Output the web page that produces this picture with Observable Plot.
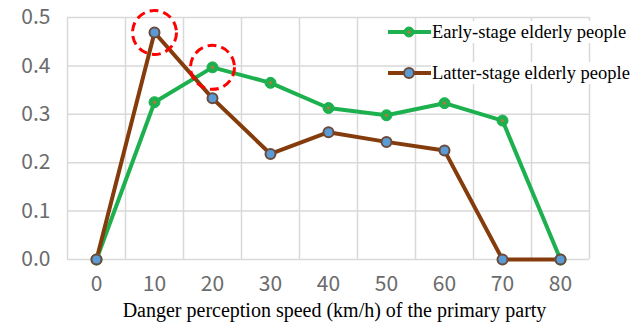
<!DOCTYPE html>
<html><head><meta charset="utf-8">
<script src="https://cdn.jsdelivr.net/npm/d3@7"></script>
<script src="https://cdn.jsdelivr.net/npm/@observablehq/plot@0.6"></script>
<style>
body{margin:0;background:#fff;}
#wrap{position:relative;width:639px;height:333px;}
.leg{position:absolute;font-family:"Liberation Serif",serif;font-size:18.5px;color:#000;background:#fff;white-space:nowrap;line-height:22px;padding:0 3px 0 1px;}
</style>
</head><body>
<div id="wrap"></div>
<script>
const speeds = [0,10,20,30,40,50,60,70,80];
const early = [0,0.325,0.397,0.365,0.313,0.298,0.323,0.287,0];
const latter = [0,0.469,0.333,0.218,0.263,0.243,0.225,0,0];
const yTicks = [0,0.1,0.2,0.3,0.4,0.5];
const seriesNames = ["Early-stage elderly people","Latter-stage elderly people"];
const highlights = [{s:10, v:latter[1]},{s:20, v:early[2]}];

const green = "#1db04f", brown = "#843c0c", blue = "#5b9bd5";
const dataE = speeds.map((s,i)=>({s, v:early[i]}));
const dataL = speeds.map((s,i)=>({s, v:latter[i]}));
const gridX = speeds.map(s=>s-5).concat([speeds[speeds.length-1]+5]);

const chart = Plot.plot({
  width:639, height:333,
  marginLeft:67, marginRight:50, marginTop:17, marginBottom:74,
  x:{type:"linear", domain:[-5,85]},
  y:{domain:[0,0.5]},
  style:{background:"#fff"},
  marks:[
    Plot.ruleY(yTicks,{stroke:"#d9d9d9",strokeWidth:1.5}),
    Plot.ruleX(gridX,{stroke:"#d9d9d9",strokeWidth:1.5}),
    Plot.axisY({ticks:yTicks, tickSize:0, tickPadding:17, tickFormat:d3.format(".1f"), label:null,
      fontSize:21, fill:"#6b6b6b", fontFamily:"Noto Sans CJK JP", style:"letter-spacing:2px"}),
    Plot.axisX({ticks:speeds, tickSize:0, tickPadding:17, tickFormat:d=>String(d), label:null,
      fontSize:21, fill:"#6b6b6b", fontFamily:"Noto Sans CJK JP"}),
    Plot.line(dataE,{x:"s",y:"v",stroke:green,strokeWidth:4}),
    Plot.line(dataL,{x:"s",y:"v",stroke:brown,strokeWidth:4}),
    Plot.dot(dataE,{x:"s",y:"v",r:5.5,fill:green,stroke:green,strokeWidth:1}),
    Plot.dot(dataE,{x:"s",y:"v",r:1.6,fill:"#b07a3a"}),
    Plot.dot(dataL,{x:"s",y:"v",r:5,fill:blue,stroke:"#6b4a3a",strokeWidth:2}),
    Plot.dot(highlights,{x:"s",y:"v",r:22,fill:"none",stroke:"#ff0000",strokeWidth:3,strokeDasharray:"9,5"}),
    Plot.text(["Danger perception speed (km/h) of the primary party"],{frameAnchor:"bottom",dy:57,dx:6,
      fontSize:20, fontFamily:"Liberation Serif", fill:"#000"})
  ]
});
const wrap = document.getElementById("wrap");
wrap.appendChild(chart);

// legend
const legY = [32,73];
const cols = [{line:green, fill:green, stroke:green, inner:"#b07a3a"},{line:brown, fill:blue, stroke:"#6b4a3a", inner:null}];
seriesNames.forEach((name,i)=>{
  const svg = d3.create("svg").attr("width",44).attr("height",14)
    .style("position","absolute").style("left","388px").style("top",(legY[i]-7)+"px");
  svg.append("line").attr("x1",0).attr("x2",44).attr("y1",7).attr("y2",7).attr("stroke",cols[i].line).attr("stroke-width",4);
  svg.append("circle").attr("cx",21).attr("cy",7).attr("r",5).attr("fill",cols[i].fill).attr("stroke",cols[i].stroke).attr("stroke-width",i?2:1);
  if(cols[i].inner) svg.append("circle").attr("cx",21).attr("cy",7).attr("r",1.6).attr("fill",cols[i].inner);
  wrap.appendChild(svg.node());
  const d = document.createElement("div");
  d.className="leg"; d.textContent=name;
  d.style.left="431px"; d.style.top=(legY[i]-11)+"px";
  wrap.appendChild(d);
});
</script>
</body></html>
